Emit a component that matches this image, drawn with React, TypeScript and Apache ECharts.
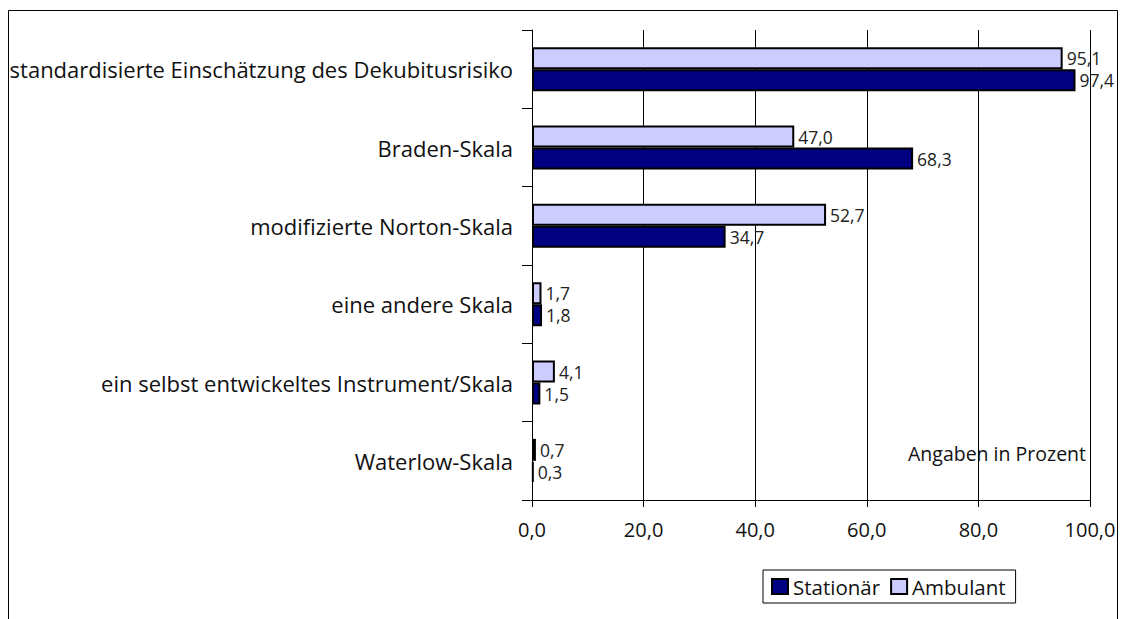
import React, { useEffect, useRef } from "react";
import * as echarts from "echarts";

const categories = [
  "standardisierte Einschätzung des Dekubitusrisiko",
  "Braden-Skala",
  "modifizierte Norton-Skala",
  "eine andere Skala",
  "ein selbst entwickeltes Instrument/Skala",
  "Waterlow-Skala",
];
const ambulant = [95.1, 47.0, 52.7, 1.7, 4.1, 0.7];
const stationaer = [97.4, 68.3, 34.7, 1.8, 1.5, 0.3];
const seriesNames = ["Stationär", "Ambulant"];
const note = "Angaben in Prozent";

const FONT = "'Open Sans', 'DejaVu Sans', sans-serif";
const fmt = (v: number) => v.toFixed(1).replace(".", ",");

export default function App() {
  const ref = useRef<HTMLDivElement>(null);
  useEffect(() => {
    if (!ref.current) return;
    const chart = echarts.init(ref.current, undefined, { renderer: "svg" });
    const barLabel = {
      show: true,
      position: "right",
      distance: 4,
      formatter: (p: any) => fmt(p.value),
      fontSize: 17.5,
      color: "#222",
      fontFamily: FONT,
    };
    chart.setOption({
      animation: false,
      backgroundColor: "#fff",
      textStyle: { fontFamily: FONT },
      grid: { left: 532, right: 35, top: 30, bottom: 119, containLabel: false },
      xAxis: {
        type: "value",
        min: 0,
        max: 100,
        interval: 20,
        axisLine: { show: true, lineStyle: { color: "#000", width: 1 } },
        axisTick: { show: true, length: 7, lineStyle: { color: "#000" } },
        splitLine: { show: true, lineStyle: { color: "#000", width: 1 } },
        axisLabel: {
          formatter: (v: number) => fmt(v),
          color: "#111",
          fontSize: 20,
          fontFamily: FONT,
          margin: 19,
        },
      },
      yAxis: {
        type: "category",
        inverse: true,
        data: categories,
        axisLine: { show: true, lineStyle: { color: "#000", width: 1 } },
        axisTick: { show: true, length: 10, lineStyle: { color: "#000" } },
        axisLabel: { color: "#111", fontSize: 22, fontFamily: FONT, margin: 19 },
      },
      legend: {
        data: [seriesNames[0], seriesNames[1]],
        left: 763,
        top: 570,
        orient: "horizontal",
        itemWidth: 16,
        itemHeight: 15,
        itemGap: 10,
        padding: [6, 10, 6, 8],
        borderColor: "#000",
        borderWidth: 1,
        backgroundColor: "#fff",
        icon: "rect",
        textStyle: { fontSize: 20.5, color: "#111", fontFamily: FONT },
      },
      graphic: [
        {
          type: "rect",
          shape: { x: 8.5, y: 10.5, width: 1109, height: 700 },
          style: { fill: "none", stroke: "#000", lineWidth: 1 },
          silent: true,
          z: -1,
        },
        {
          type: "text",
          right: 39,
          top: 443,
          style: { text: note, fontSize: 19.5, fill: "#111", fontFamily: FONT },
        },
      ],
      series: [
        {
          name: seriesNames[1],
          type: "bar",
          data: ambulant,
          barWidth: 22,
          barGap: "0%",
          itemStyle: { color: "#CCCCFF", borderColor: "#000", borderWidth: 2 },
          label: barLabel,
        },
        {
          name: seriesNames[0],
          type: "bar",
          data: stationaer,
          barWidth: 22,
          barGap: "0%",
          itemStyle: { color: "#000080", borderColor: "#000", borderWidth: 2 },
          label: barLabel,
        },
      ],
    });
    return () => chart.dispose();
  }, []);
  return (
    <div
      ref={ref}
      style={{ position: "fixed", left: 0, top: 0, width: 1125, height: 619 }}
    />
  );
}
